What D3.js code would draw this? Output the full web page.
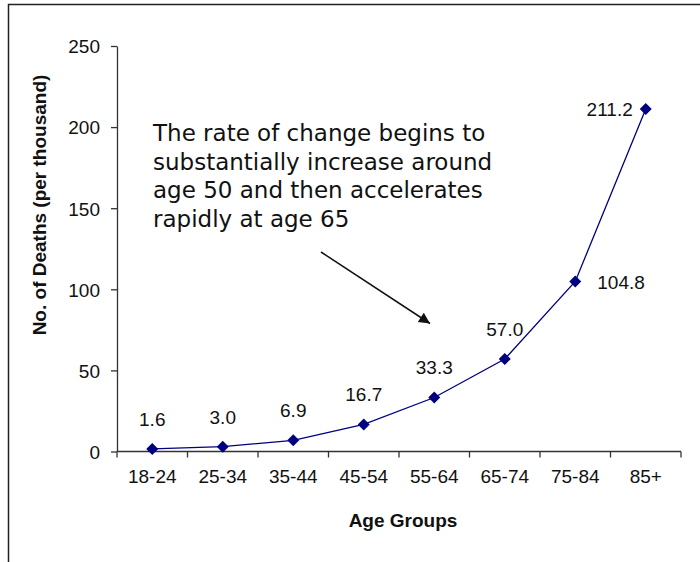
<!DOCTYPE html>
<html>
<head>
<meta charset="utf-8">
<script src="https://cdn.jsdelivr.net/npm/d3@7"></script>
<style>
  html, body { margin: 0; padding: 0; background: #fff; }
  svg { display: block; }
</style>
</head>
<body>
<svg id="chart" width="700" height="562"></svg>
<script>
// Death rate per thousand by age group
const ageGroups = ["18-24", "25-34", "35-44", "45-54", "55-64", "65-74", "75-84", "85+"];
const deathRates = [1.6, 3.0, 6.9, 16.7, 33.3, 57.0, 104.8, 211.2];
const yTicks = [0, 50, 100, 150, 200, 250];
const noteLines = [
  "The rate of change begins to",
  "substantially increase around",
  "age 50 and then accelerates",
  "rapidly at age 65"
];

const svg = d3.select("#chart");
const navy = "#000080";
const sans = "'Liberation Sans', Arial, sans-serif";

// Frame lines along the top and left edges
svg.append("path")
  .attr("d", "M8.5,562 V4.5 H700")
  .attr("fill", "none")
  .attr("stroke", "#222")
  .attr("stroke-width", 1.5);

const plot = { left: 117, right: 681, top: 46, bottom: 451.5 };

const x = d3.scaleBand().domain(ageGroups).range([plot.left, plot.right]).padding(0);
const y = d3.scaleLinear().domain([0, 250]).range([plot.bottom, plot.top]);

// Y axis
const yAxis = svg.append("g")
  .attr("transform", `translate(${plot.left},0)`)
  .call(d3.axisLeft(y).tickValues(yTicks).tickSize(6).tickPadding(11).tickSizeOuter(0));
yAxis.select(".domain").attr("stroke", "#333").attr("stroke-width", 1.3);
yAxis.selectAll(".tick line").attr("stroke", "#333").attr("stroke-width", 1.3);
yAxis.selectAll(".tick text")
  .attr("font-family", sans).attr("font-size", 19).attr("fill", "#111")
  .attr("dy", "0.36em");

// X axis: ticks at category boundaries, labels centered in each band
const xAxisG = svg.append("g").attr("transform", `translate(0,${plot.bottom})`);
xAxisG.append("line")
  .attr("x1", plot.left).attr("x2", plot.right)
  .attr("stroke", "#333").attr("stroke-width", 1.3);
const boundaries = ageGroups.map(d => x(d)).concat([x(ageGroups[ageGroups.length - 1]) + x.bandwidth()]);
xAxisG.selectAll("line.tick").data(boundaries).join("line")
  .attr("class", "tick")
  .attr("x1", d => d).attr("x2", d => d)
  .attr("y1", 0).attr("y2", 6)
  .attr("stroke", "#333").attr("stroke-width", 1.3);
xAxisG.selectAll("text").data(ageGroups).join("text")
  .attr("x", d => x(d) + x.bandwidth() / 2)
  .attr("y", 31)
  .attr("text-anchor", "middle")
  .attr("font-family", sans).attr("font-size", 19).attr("fill", "#111")
  .text(d => d);

// Axis titles
svg.append("text")
  .attr("transform", `translate(46,205) rotate(-90)`)
  .attr("text-anchor", "middle")
  .attr("font-family", sans).attr("font-size", 19).attr("font-weight", "bold")
  .attr("fill", "#111")
  .text("No. of Deaths (per thousand)");
svg.append("text")
  .attr("x", 403).attr("y", 527)
  .attr("text-anchor", "middle")
  .attr("font-family", sans).attr("font-size", 19).attr("font-weight", "bold")
  .attr("fill", "#111")
  .text("Age Groups");

// Series line and diamond markers
const pts = ageGroups.map((g, i) => ({ g, v: deathRates[i], i }));
const cx = d => x(d.g) + x.bandwidth() / 2;
svg.append("path")
  .datum(pts)
  .attr("d", d3.line().x(cx).y(d => y(d.v)))
  .attr("fill", "none")
  .attr("stroke", navy)
  .attr("stroke-width", 1.3);
svg.selectAll("path.marker").data(pts).join("path")
  .attr("class", "marker")
  .attr("transform", d => `translate(${cx(d)},${y(d.v)})`)
  .attr("d", "M0,-6 L6,0 L0,6 L-6,0 Z")
  .attr("fill", navy);

// Value labels
svg.selectAll("text.value").data(pts).join("text")
  .attr("class", "value")
  .attr("font-family", sans).attr("font-size", 19).attr("fill", "#111")
  .attr("text-anchor", d => d.i === 7 ? "end" : (d.i === 6 ? "start" : "middle"))
  .attr("x", d => d.i === 7 ? cx(d) - 13 : (d.i === 6 ? cx(d) + 22 : cx(d)))
  .attr("y", d => d.i >= 6 ? y(d.v) + 7 : y(d.v) - 23)
  .text(d => d.v.toFixed(1));

// Annotation
const note = svg.append("text")
  .attr("font-family", "'DejaVu Sans', Verdana, sans-serif")
  .attr("font-size", 23)
  .attr("fill", "#111");
note.selectAll("tspan").data(noteLines).join("tspan")
  .attr("x", 153)
  .attr("y", (d, i) => 141 + i * 28.6)
  .text(d => d);

svg.append("defs").append("marker")
  .attr("id", "arrowhead")
  .attr("viewBox", "0 0 10 10")
  .attr("refX", 10).attr("refY", 5)
  .attr("markerWidth", 14).attr("markerHeight", 11)
  .attr("markerUnits", "userSpaceOnUse")
  .attr("orient", "auto")
  .append("path").attr("d", "M0,0 L10,5 L0,10 Z").attr("fill", "#111");
svg.append("line")
  .attr("x1", 321).attr("y1", 252)
  .attr("x2", 430).attr("y2", 323.5)
  .attr("stroke", "#111").attr("stroke-width", 1.5)
  .attr("marker-end", "url(#arrowhead)");
</script>
</body>
</html>
